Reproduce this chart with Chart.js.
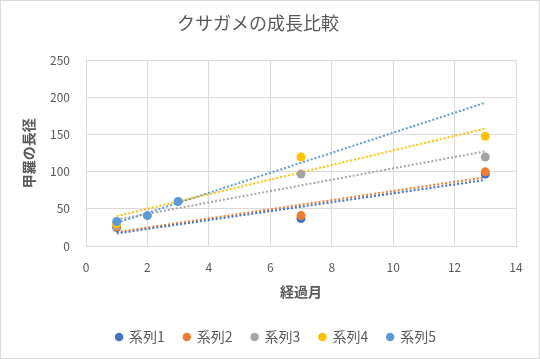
<!DOCTYPE html>
<html><head><meta charset="utf-8">
<script src="https://cdn.jsdelivr.net/npm/chart.js@4/dist/chart.umd.min.js"></script>
<style>html,body{margin:0;padding:0;background:#fff}#wrap{width:540px;height:359px;position:relative}</style>
</head><body><div id="wrap"><canvas id="c" width="540" height="359"></canvas></div>
<script>
const seriesNames = ["系列1","系列2","系列3","系列4","系列5"];
const seriesColors = ["#4472C4","#ED7D31","#A5A5A5","#FFC000","#5B9BD5"];
const s1x = [1,7,13], s1y = [25,37,97];
const s2x = [1,7,13], s2y = [26,41,100];
const s3x = [1,7,13], s3y = [28,97,120];
const s4x = [1,7,13], s4y = [30,120,148];
const s5x = [1,2,3],  s5y = [33,41,60];
const trendRange = [1,13];
const xTicks = [0,2,4,6,8,10,12,14];
const yTicks = [0,50,100,150,200,250];
const titleText = "クサガメの成長比較";
const xTitle = "経過月";
const yTitle = "甲羅の長径";

const xs=[s1x,s2x,s3x,s4x,s5x], ys=[s1y,s2y,s3y,s4y,s5y];
function fit(x,y){const n=x.length;const mx=x.reduce((a,b)=>a+b)/n,my=y.reduce((a,b)=>a+b)/n;let sxy=0,sxx=0;for(let i=0;i<n;i++){sxy+=(x[i]-mx)*(y[i]-my);sxx+=(x[i]-mx)**2;}const b=sxy/sxx;return v=>my+b*(v-mx);}
const datasets=[];
seriesNames.forEach((nm,i)=>{
  datasets.push({label:nm,type:'scatter',data:xs[i].map((v,j)=>({x:v,y:ys[i][j]})),backgroundColor:seriesColors[i],borderColor:seriesColors[i],pointRadius:4.5,pointHoverRadius:4.5,borderWidth:0,order:5-i});
});
seriesNames.forEach((nm,i)=>{
  const f=fit(xs[i],ys[i]);
  datasets.push({label:nm+"trend",trend:true,type:'line',data:trendRange.map(v=>({x:v,y:f(v)})),borderColor:seriesColors[i],borderWidth:2,borderDash:[2,2],pointRadius:0,fill:false,order:20});
});
const font="'Noto Sans CJK JP','Noto Sans',sans-serif";
const grey="#595959";
new Chart(document.getElementById('c'),{
  data:{datasets},
  options:{
    responsive:false,animation:false,
    layout:{padding:{left:0,right:24,top:0,bottom:5}},
    plugins:{
      title:{display:true,text:titleText,color:grey,font:{family:font,size:18,weight:'normal'},padding:{top:12,bottom:27}},
      legend:{position:'bottom',labels:{usePointStyle:true,pointStyle:'circle',boxWidth:6,boxHeight:6,padding:19,color:grey,font:{family:font,size:14},
        filter:(it,d)=>!d.datasets[it.datasetIndex].trend,
        sort:(a,b)=>a.datasetIndex-b.datasetIndex}},
      tooltip:{enabled:false}
    },
    scales:{
      x:{type:'linear',min:0,max:14,afterBuildTicks:s=>{s.ticks=xTicks.map(v=>({value:v}));},
        grid:{color:"#D9D9D9",drawTicks:false},border:{color:"#D9D9D9"},
        ticks:{padding:14,color:grey,font:{family:font,size:12}},
        title:{display:true,text:xTitle,color:grey,font:{family:font,size:14,weight:'bold'},padding:{top:0,bottom:11}},
        afterFit:s=>{s.height=65;}},
      y:{type:'linear',min:0,max:250,afterBuildTicks:s=>{s.ticks=yTicks.map(v=>({value:v}));},
        grid:{color:"#D9D9D9",drawTicks:false},border:{display:false},
        ticks:{padding:16,color:grey,font:{family:font,size:12}},
        title:{display:true,text:yTitle,color:grey,font:{family:font,size:14,weight:'bold'},padding:{top:20.5,bottom:0}},
        afterFit:s=>{s.width=86;}}
    }
  },
  plugins:[{id:'legendCenter',afterLayout(c){const l=c.legend;if(l){l.left=6;l.right=546;l.width=540;}}},
    {id:'frame',afterDraw(c){const x=c.ctx;x.save();x.strokeStyle="#D9D9D9";x.lineWidth=1;x.strokeRect(0.5,0.5,539,358);x.restore();}}]
});
</script></body></html>
